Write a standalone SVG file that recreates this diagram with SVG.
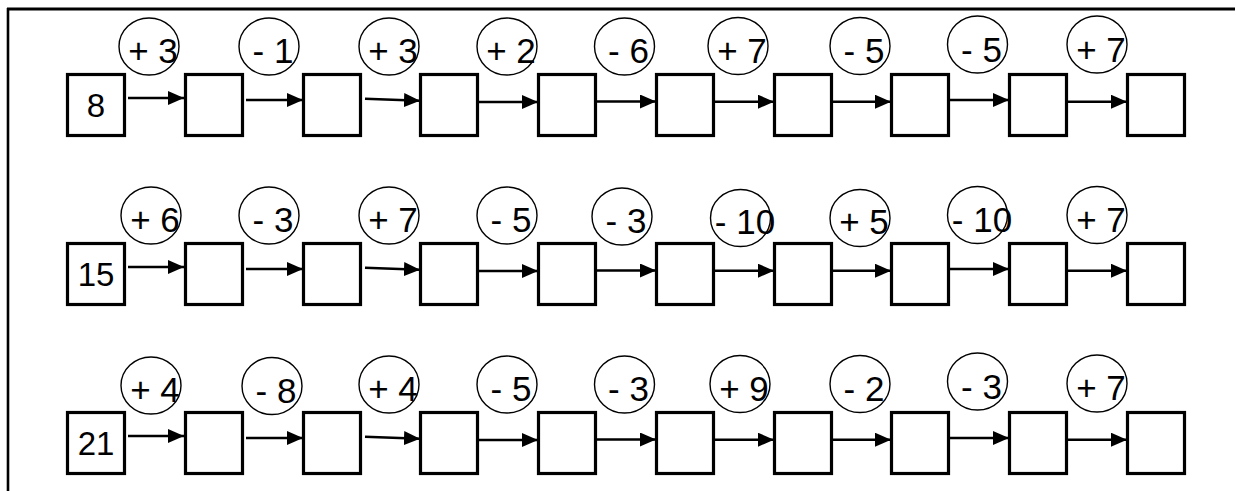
<svg xmlns="http://www.w3.org/2000/svg" width="1236" height="491" viewBox="0 0 1236 491">
<defs>
<style>
.box{fill:#fff;stroke:#000;stroke-width:3.2}
.op{fill:none;stroke:#000;stroke-width:1.4}
.lbl{font-family:"Liberation Sans","DejaVu Sans",sans-serif;font-size:35px;fill:#000;text-anchor:middle}
.num{font-family:"Liberation Sans","DejaVu Sans",sans-serif;font-size:33px;fill:#000;text-anchor:middle}
.ar{stroke:#000;stroke-width:2.5;fill:none;marker-end:url(#ah)}
.frame{stroke:#000;fill:none}
</style>
<marker id="ah" markerUnits="userSpaceOnUse" markerWidth="16" markerHeight="14" refX="16" refY="7" orient="auto">
<path d="M0,0 L16,7 L0,14 Z" fill="#000"/>
</marker>
</defs>
<rect width="1236" height="491" fill="#fff"/>
<g id="frame">
<line class="frame" x1="7" y1="9" x2="1235" y2="9" stroke-width="3"/>
<line class="frame" x1="8" y1="8" x2="8" y2="491" stroke-width="2.6"/>
</g>

<g id="connectors">
<g id="arrows-row1">
<line class="ar" x1="128" y1="98" x2="184" y2="98"/>
<line class="ar" x1="246" y1="100" x2="303" y2="100"/>
<line class="ar" x1="365" y1="98.7" x2="420" y2="100.7"/>
<line class="ar" x1="477" y1="102" x2="538" y2="102"/>
<line class="ar" x1="597" y1="101.5" x2="656" y2="101.5"/>
<line class="ar" x1="712" y1="101.7" x2="774" y2="101.7"/>
<line class="ar" x1="832" y1="101.7" x2="891" y2="101.7"/>
<line class="ar" x1="947" y1="100" x2="1009" y2="100"/>
<line class="ar" x1="1068" y1="101.7" x2="1127" y2="101.7"/>
</g>
<g id="arrows-row2" transform="translate(0,169)">
<line class="ar" x1="128" y1="98" x2="184" y2="98"/>
<line class="ar" x1="246" y1="100" x2="303" y2="100"/>
<line class="ar" x1="365" y1="98.7" x2="420" y2="100.7"/>
<line class="ar" x1="477" y1="102" x2="538" y2="102"/>
<line class="ar" x1="597" y1="101.5" x2="656" y2="101.5"/>
<line class="ar" x1="712" y1="101.7" x2="774" y2="101.7"/>
<line class="ar" x1="832" y1="101.7" x2="891" y2="101.7"/>
<line class="ar" x1="947" y1="100" x2="1009" y2="100"/>
<line class="ar" x1="1068" y1="101.7" x2="1127" y2="101.7"/>
</g>
<g id="arrows-row3" transform="translate(0,338)">
<line class="ar" x1="128" y1="98" x2="184" y2="98"/>
<line class="ar" x1="246" y1="100" x2="303" y2="100"/>
<line class="ar" x1="365" y1="98.7" x2="420" y2="100.7"/>
<line class="ar" x1="477" y1="102" x2="538" y2="102"/>
<line class="ar" x1="597" y1="101.5" x2="656" y2="101.5"/>
<line class="ar" x1="712" y1="101.7" x2="774" y2="101.7"/>
<line class="ar" x1="832" y1="101.7" x2="891" y2="101.7"/>
<line class="ar" x1="947" y1="100" x2="1009" y2="100"/>
<line class="ar" x1="1068" y1="101.7" x2="1127" y2="101.7"/>
</g>
</g>

<!-- Row 1 -->
<g id="row1">
<g id="r1b1"><rect class="box" x="67.5" y="74.5" width="57" height="61"/><text class="num" x="96" y="117">8</text></g>
<g id="r1b2"><rect class="box" x="185.5" y="74.5" width="57" height="61"/></g>
<g id="r1b3"><rect class="box" x="303.5" y="74.5" width="57" height="61"/></g>
<g id="r1b4"><rect class="box" x="420.5" y="74.5" width="57" height="61"/></g>
<g id="r1b5"><rect class="box" x="538.5" y="74.5" width="57" height="61"/></g>
<g id="r1b6"><rect class="box" x="656.5" y="74.5" width="57" height="61"/></g>
<g id="r1b7"><rect class="box" x="774.5" y="74.5" width="57" height="61"/></g>
<g id="r1b8"><rect class="box" x="891.5" y="74.5" width="57" height="61"/></g>
<g id="r1b9"><rect class="box" x="1009.5" y="74.5" width="57" height="61"/></g>
<g id="r1b10"><rect class="box" x="1127.5" y="74.5" width="57" height="61"/></g>
<g id="r1o1"><ellipse class="op" cx="149" cy="46.5" rx="30" ry="28.5"/><text class="lbl" x="153" y="63">+ 3</text></g>
<g id="r1o2"><ellipse class="op" cx="269" cy="46.5" rx="30" ry="28.5"/><text class="lbl" x="273" y="63">- 1</text></g>
<g id="r1o3"><ellipse class="op" cx="389" cy="46.5" rx="30" ry="28.5"/><text class="lbl" x="393" y="63">+ 3</text></g>
<g id="r1o4"><ellipse class="op" cx="507" cy="46.5" rx="30" ry="28.5"/><text class="lbl" x="511" y="63">+ 2</text></g>
<g id="r1o5"><ellipse class="op" cx="624.5" cy="46.5" rx="30" ry="28.5"/><text class="lbl" x="628.5" y="63">- 6</text></g>
<g id="r1o6"><ellipse class="op" cx="738" cy="46" rx="30" ry="28.5"/><text class="lbl" x="742" y="63">+ 7</text></g>
<g id="r1o7"><ellipse class="op" cx="860" cy="46" rx="30" ry="28.5"/><text class="lbl" x="864" y="63">- 5</text></g>
<g id="r1o8"><ellipse class="op" cx="977.5" cy="44.5" rx="30" ry="28.5"/><text class="lbl" x="981.5" y="62">- 5</text></g>
<g id="r1o9"><ellipse class="op" cx="1097" cy="44.5" rx="30" ry="28.5"/><text class="lbl" x="1101" y="62">+ 7</text></g>
</g>

<!-- Row 2 -->
<g id="row2" transform="translate(0,169)">
<g id="r2b1"><rect class="box" x="67.5" y="74.5" width="57" height="61"/><text class="num" x="96" y="117">15</text></g>
<g id="r2b2"><rect class="box" x="185.5" y="74.5" width="57" height="61"/></g>
<g id="r2b3"><rect class="box" x="303.5" y="74.5" width="57" height="61"/></g>
<g id="r2b4"><rect class="box" x="420.5" y="74.5" width="57" height="61"/></g>
<g id="r2b5"><rect class="box" x="538.5" y="74.5" width="57" height="61"/></g>
<g id="r2b6"><rect class="box" x="656.5" y="74.5" width="57" height="61"/></g>
<g id="r2b7"><rect class="box" x="774.5" y="74.5" width="57" height="61"/></g>
<g id="r2b8"><rect class="box" x="891.5" y="74.5" width="57" height="61"/></g>
<g id="r2b9"><rect class="box" x="1009.5" y="74.5" width="57" height="61"/></g>
<g id="r2b10"><rect class="box" x="1127.5" y="74.5" width="57" height="61"/></g>
<g id="r2o1"><ellipse class="op" cx="151" cy="46.5" rx="30" ry="28.5"/><text class="lbl" x="155" y="63">+ 6</text></g>
<g id="r2o2"><ellipse class="op" cx="269" cy="46.5" rx="30" ry="28.5"/><text class="lbl" x="273" y="63">- 3</text></g>
<g id="r2o3"><ellipse class="op" cx="389" cy="46.5" rx="30" ry="28.5"/><text class="lbl" x="393" y="63">+ 7</text></g>
<g id="r2o4"><ellipse class="op" cx="507" cy="46.5" rx="30" ry="28.5"/><text class="lbl" x="511" y="63">- 5</text></g>
<g id="r2o5"><ellipse class="op" cx="622" cy="47.5" rx="30" ry="28.5"/><text class="lbl" x="626" y="64">- 3</text></g>
<g id="r2o6"><ellipse class="op" cx="740.5" cy="49" rx="30" ry="28.5"/><text class="lbl" x="745" y="65">- 10</text></g>
<g id="r2o7"><ellipse class="op" cx="860" cy="49" rx="30" ry="28.5"/><text class="lbl" x="864" y="65">+ 5</text></g>
<g id="r2o8"><ellipse class="op" cx="977.5" cy="46" rx="30" ry="28.5"/><text class="lbl" x="982" y="63">- 10</text></g>
<g id="r2o9"><ellipse class="op" cx="1097" cy="46" rx="30" ry="28.5"/><text class="lbl" x="1101" y="63">+ 7</text></g>
</g>

<!-- Row 3 -->
<g id="row3" transform="translate(0,338)">
<g id="r3b1"><rect class="box" x="67.5" y="74.5" width="57" height="61"/><text class="num" x="96" y="117">21</text></g>
<g id="r3b2"><rect class="box" x="185.5" y="74.5" width="57" height="61"/></g>
<g id="r3b3"><rect class="box" x="303.5" y="74.5" width="57" height="61"/></g>
<g id="r3b4"><rect class="box" x="420.5" y="74.5" width="57" height="61"/></g>
<g id="r3b5"><rect class="box" x="538.5" y="74.5" width="57" height="61"/></g>
<g id="r3b6"><rect class="box" x="656.5" y="74.5" width="57" height="61"/></g>
<g id="r3b7"><rect class="box" x="774.5" y="74.5" width="57" height="61"/></g>
<g id="r3b8"><rect class="box" x="891.5" y="74.5" width="57" height="61"/></g>
<g id="r3b9"><rect class="box" x="1009.5" y="74.5" width="57" height="61"/></g>
<g id="r3b10"><rect class="box" x="1127.5" y="74.5" width="57" height="61"/></g>
<g id="r3o1"><ellipse class="op" cx="151" cy="47.5" rx="30" ry="28.5"/><text class="lbl" x="155" y="64">+ 4</text></g>
<g id="r3o2"><ellipse class="op" cx="272" cy="48" rx="30" ry="28.5"/><text class="lbl" x="276" y="65">- 8</text></g>
<g id="r3o3"><ellipse class="op" cx="389" cy="46.5" rx="30" ry="28.5"/><text class="lbl" x="393" y="63">+ 4</text></g>
<g id="r3o4"><ellipse class="op" cx="507" cy="46.5" rx="30" ry="28.5"/><text class="lbl" x="511" y="63">- 5</text></g>
<g id="r3o5"><ellipse class="op" cx="624.5" cy="46.5" rx="30" ry="28.5"/><text class="lbl" x="628.5" y="63">- 3</text></g>
<g id="r3o6"><ellipse class="op" cx="740" cy="46" rx="30" ry="28.5"/><text class="lbl" x="744" y="63">+ 9</text></g>
<g id="r3o7"><ellipse class="op" cx="860" cy="46" rx="30" ry="28.5"/><text class="lbl" x="864" y="63">- 2</text></g>
<g id="r3o8"><ellipse class="op" cx="977.5" cy="43.5" rx="30" ry="28.5"/><text class="lbl" x="981.5" y="61">- 3</text></g>
<g id="r3o9"><ellipse class="op" cx="1097" cy="45.5" rx="30" ry="28.5"/><text class="lbl" x="1101" y="62">+ 7</text></g>
</g>
</svg>
